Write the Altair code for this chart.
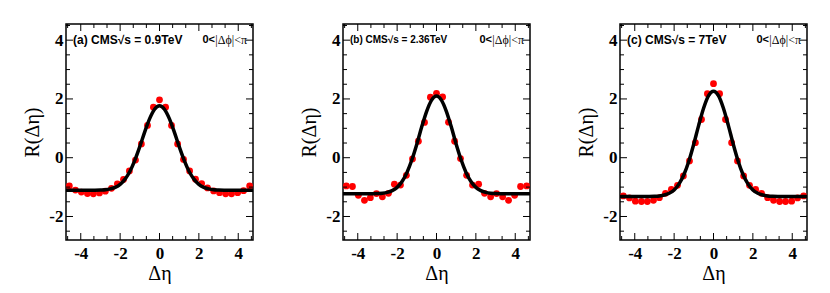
import altair as alt
import pandas as pd

# Δη bin centres
eta = [-4.58, -4.27, -3.97, -3.66, -3.36, -3.05, -2.75, -2.44, -2.14, -1.83,
       -1.53, -1.22, -0.92, -0.61, -0.31, 0.0, 0.31, 0.61, 0.92, 1.22,
       1.53, 1.83, 2.14, 2.44, 2.75, 3.05, 3.36, 3.66, 3.97, 4.27, 4.58]

# R(Δη) data points
r_09 = [-0.96, -1.10, -1.17, -1.22, -1.23, -1.20, -1.14, -1.04, -0.89, -0.74,
        -0.45, -0.08, 0.47, 1.10, 1.72, 1.97, 1.72, 1.10, 0.47, -0.06,
        -0.45, -0.73, -0.88, -1.03, -1.13, -1.19, -1.23, -1.23, -1.19, -1.12, -0.96]
r_236 = [-0.96, -0.98, -1.28, -1.45, -1.36, -1.22, -1.33, -1.21, -0.90, -0.93,
         -0.60, -0.04, 0.56, 1.20, 2.06, 2.19, 2.07, 1.21, 0.56, -0.03,
         -0.60, -0.93, -0.90, -1.21, -1.33, -1.22, -1.33, -1.45, -1.28, -0.98, -0.96]
r_7 = [-1.30, -1.37, -1.48, -1.49, -1.49, -1.45, -1.36, -1.21, -1.08, -0.94,
       -0.62, -0.11, 0.51, 1.30, 2.18, 2.52, 2.18, 1.30, 0.51, -0.11,
       -0.62, -0.94, -1.08, -1.21, -1.36, -1.45, -1.49, -1.49, -1.48, -1.37, -1.30]

# fitted curve
curve_x = [-4.75, -3.5, -3.0, -2.75, -2.5, -2.25, -2.0, -1.75, -1.5, -1.25, -1.0,
           -0.75, -0.5, -0.25, 0.0, 0.25, 0.5, 0.75, 1.0, 1.25, 1.5, 1.75, 2.0,
           2.25, 2.5, 2.75, 3.0, 3.5, 4.75]
fit_09 = [-1.11, -1.11, -1.10, -1.09, -1.06, -1.01, -0.91, -0.73, -0.46, -0.08, 0.38,
          0.88, 1.33, 1.65, 1.77, 1.65, 1.33, 0.88, 0.38, -0.08, -0.46, -0.73, -0.91,
          -1.01, -1.06, -1.09, -1.10, -1.11, -1.11]
fit_236 = [-1.23, -1.23, -1.22, -1.21, -1.18, -1.12, -1.01, -0.81, -0.50, -0.07, 0.46,
           1.05, 1.58, 1.96, 2.10, 1.96, 1.58, 1.05, 0.46, -0.07, -0.50, -0.81, -1.01,
           -1.12, -1.18, -1.21, -1.22, -1.23, -1.23]
fit_7 = [-1.32, -1.32, -1.31, -1.30, -1.27, -1.21, -1.10, -0.89, -0.57, -0.11, 0.47,
         1.11, 1.69, 2.11, 2.26, 2.11, 1.69, 1.11, 0.47, -0.11, -0.57, -0.89, -1.10,
         -1.21, -1.27, -1.30, -1.31, -1.32, -1.32]

labels = ["(a) CMS\u221as = 0.9TeV", "(b) CMS\u221as = 2.36TeV", "(c) CMS\u221as = 7TeV"]
label_sizes = [12, 10, 12]
dphi_a = "0<"
dphi_b = "|\u0394\u03d5|<\u03c0"

x_major = [-4, -2, 0, 2, 4]
x_minor = [-4.667, -3.333, -2.667, -1.333, -0.667, 0.667, 1.333, 2.667, 3.333, 4.667]
y_major = [-2, 0, 2, 4]
y_minor = [-2.5, -1.5, -1.0, -0.5, 0.5, 1.0, 1.5, 2.5, 3.0, 3.5, 4.5]

W, H = 187, 216
xscale = alt.Scale(domain=[-4.75, 4.75], nice=False, zero=False)
yscale = alt.Scale(domain=[-2.8, 4.55], nice=False, zero=False)

xaxis = alt.Axis(values=x_major, title="\u0394\u03b7", labelExpr="'' + datum.value",
                 labelFont="Liberation Serif", labelFontWeight="bold", labelFontSize=17,
                 labelColor="black", titleFont="Liberation Serif", titleFontWeight="normal",
                 titleFontSize=20, titleColor="black", ticks=False, domain=False, grid=False,
                 labelPadding=5, titlePadding=2)
yaxis = alt.Axis(values=y_major, title="R(\u0394\u03b7)", labelExpr="'' + datum.value",
                 labelFont="Liberation Serif", labelFontWeight="bold", labelFontSize=17,
                 labelColor="black", titleFont="Liberation Serif", titleFontWeight="normal",
                 titleFontSize=20, titleColor="black", ticks=False, domain=False, grid=False,
                 labelPadding=3, titlePadding=6)


def tick_layers():
    layers = []
    for vals, ln in ((y_major, 7), (y_minor, 4)):
        d = pd.DataFrame({"v": vals})
        for x0, x1 in ((0, ln), (W, W - ln)):
            layers.append(alt.Chart(d).mark_rule(color="black", strokeWidth=1).encode(
                y=alt.Y("v:Q", scale=yscale, axis=yaxis),
                x=alt.value(x0), x2=alt.value(x1)))
    for vals, ln in ((x_major, 7), (x_minor, 4)):
        d = pd.DataFrame({"v": vals})
        for y0, y1 in ((0, ln), (H, H - ln)):
            layers.append(alt.Chart(d).mark_rule(color="black", strokeWidth=1).encode(
                x=alt.X("v:Q", scale=xscale, axis=xaxis),
                y=alt.value(y0), y2=alt.value(y1)))
    return layers


def text_layer(s, x, align, font, weight, size):
    return alt.Chart(pd.DataFrame({"t": [s]})).mark_text(
        align=align, baseline="middle", font=font, fontWeight=weight,
        fontSize=size, color="black").encode(text="t:N", x=alt.value(x), y=alt.value(16))


def panel(r, fit, label, lsize):
    pts = pd.DataFrame({"x": eta, "y": r})
    cur = pd.DataFrame({"x": curve_x, "y": fit})
    points = alt.Chart(pts).mark_circle(color="#ff0000", size=46, opacity=1).encode(
        x=alt.X("x:Q", scale=xscale, axis=xaxis),
        y=alt.Y("y:Q", scale=yscale, axis=yaxis))
    line = alt.Chart(cur).mark_line(color="black", strokeWidth=3.5, interpolate="monotone").encode(
        x=alt.X("x:Q", scale=xscale, axis=xaxis),
        y=alt.Y("y:Q", scale=yscale, axis=yaxis))
    t1 = text_layer(label, 7, "left", "Liberation Sans", "bold", lsize)
    t2 = text_layer(dphi_a, W - 38, "right", "Liberation Sans", "bold", 11)
    t3 = text_layer(dphi_b, W - 6, "right", "Liberation Serif", "normal", 12)
    return alt.layer(points, line, t1, t2, t3, *tick_layers()).properties(width=W, height=H)


chart = alt.hconcat(
    panel(r_09, fit_09, labels[0], label_sizes[0]),
    panel(r_236, fit_236, labels[1], label_sizes[1]),
    panel(r_7, fit_7, labels[2], label_sizes[2]),
    spacing=90, bounds="flush",
).properties(
    padding={"left": 14, "top": 14, "right": 0, "bottom": 0},
    background="white",
).configure_view(stroke="black", strokeWidth=1.5)

chart.save("out.html", embed_options={"renderer": "svg", "actions": False})
